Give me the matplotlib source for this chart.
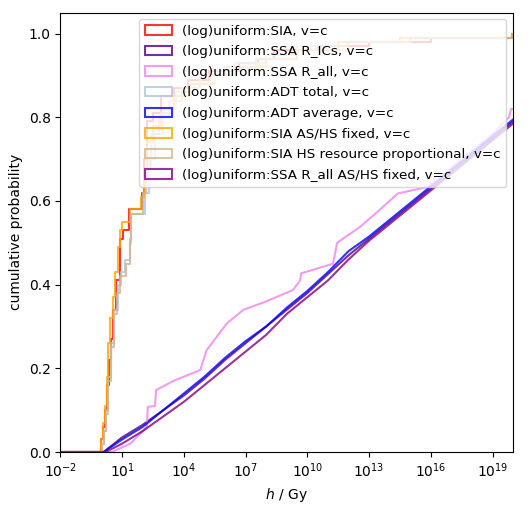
import numpy as np
import matplotlib
matplotlib.use("Agg")
import matplotlib.pyplot as plt
from matplotlib.patches import Patch
from matplotlib.ticker import NullLocator

# ---- data: log10(h / Gy) breakpoints and cumulative probabilities ----
labels = [
    "(log)uniform:SIA, v=c",
    "(log)uniform:SSA R_ICs, v=c",
    "(log)uniform:SSA R_all, v=c",
    "(log)uniform:ADT total, v=c",
    "(log)uniform:ADT average, v=c",
    "(log)uniform:SIA AS/HS fixed, v=c",
    "(log)uniform:SIA HS resource proportional, v=c",
    "(log)uniform:SSA R_all AS/HS fixed, v=c",
]
colors = ["red", "indigo", "violet", "lightsteelblue", "blue", "orange", "tan", "purple"]

# step-like curves (SIA family)
sia_logh = [-0.05, 0.05, 0.15, 0.25, 0.35, 0.45, 0.55, 0.70, 0.90, 1.05, 1.35, 1.95, 2.05, 2.20,
            2.50, 2.90, 3.50, 4.20, 5.20, 6.70, 7.60, 8.40, 10.5, 13.0, 16.0, 19.95]
sia_cdf = [0.03, 0.06, 0.10, 0.16, 0.22, 0.27, 0.34, 0.41, 0.51, 0.53, 0.58, 0.62, 0.70, 0.79,
           0.81, 0.85, 0.87, 0.89, 0.91, 0.93, 0.94, 0.96, 0.97, 0.98, 0.99, 1.00]

adt_total_logh = [0.0, 0.1, 0.2, 0.3, 0.45, 0.60, 0.80, 0.95, 1.15, 1.40, 1.45, 2.10, 2.30, 2.60,
                  3.00, 3.60, 4.50, 5.50, 6.50, 8.00, 9.50, 12.0, 15.0, 19.95]
adt_total_cdf = [0.02, 0.05, 0.10, 0.18, 0.26, 0.34, 0.40, 0.43, 0.46, 0.50, 0.57, 0.62, 0.70, 0.76,
                 0.82, 0.86, 0.88, 0.91, 0.93, 0.95, 0.97, 0.98, 0.99, 1.00]

sia_fixed_logh = [-0.05, 0.05, 0.15, 0.25, 0.32, 0.42, 0.55, 0.65, 0.80, 0.90, 1.0, 1.40, 1.90, 2.05,
                  2.20, 2.50, 2.90, 3.50, 4.30, 5.30, 6.50, 8.00, 9.50, 11.5, 14.5, 19.95]
sia_fixed_cdf = [0.03, 0.07, 0.11, 0.18, 0.26, 0.32, 0.37, 0.43, 0.49, 0.53, 0.55, 0.58, 0.61, 0.66,
                 0.74, 0.78, 0.81, 0.85, 0.88, 0.90, 0.92, 0.94, 0.96, 0.98, 0.99, 1.00]

sia_hs_logh = [0.0, 0.1, 0.2, 0.3, 0.45, 0.60, 0.75, 0.90, 1.20, 1.40, 1.45, 2.00, 2.15, 2.40,
               2.80, 3.30, 3.90, 4.80, 6.00, 7.50, 9.50, 12.0, 15.0, 19.95]
sia_hs_cdf = [0.02, 0.05, 0.09, 0.17, 0.25, 0.33, 0.38, 0.42, 0.45, 0.51, 0.57, 0.62, 0.68, 0.76,
              0.80, 0.84, 0.87, 0.90, 0.92, 0.94, 0.96, 0.98, 0.99, 1.00]

# finely stepped curves (SSA / ADT average family)
ssa_ics_logh = [0.1, 1, 2, 3, 4, 5, 6, 7, 8, 9, 10, 11, 12, 13, 14, 15, 16, 17, 18, 19, 20]
ssa_ics_cdf = [0.0, 0.035, 0.065, 0.10, 0.135, 0.175, 0.22, 0.26, 0.30, 0.34, 0.38, 0.425, 0.47,
               0.51, 0.55, 0.59, 0.63, 0.67, 0.71, 0.75, 0.79]

adt_avg_logh = [0.1, 1, 2, 3, 4, 5, 6, 7, 8, 9, 10, 11, 12, 13, 14, 15, 16, 17, 18, 19, 20]
adt_avg_cdf = [0.0, 0.03, 0.06, 0.10, 0.14, 0.18, 0.225, 0.265, 0.30, 0.345, 0.385, 0.43, 0.48,
               0.515, 0.555, 0.595, 0.635, 0.675, 0.715, 0.755, 0.795]

ssa_fixed_logh = [0.2, 1, 2, 3, 4, 5, 6, 7, 8, 9, 10, 11, 12, 13, 14, 15, 16, 17, 18, 19, 20]
ssa_fixed_cdf = [0.0, 0.02, 0.05, 0.085, 0.12, 0.16, 0.20, 0.24, 0.28, 0.33, 0.37, 0.41, 0.46,
                 0.505, 0.545, 0.585, 0.625, 0.665, 0.705, 0.745, 0.785]

ssa_all_logh = [0.5, 1.4, 2.0, 2.2, 2.25, 2.6, 2.65, 3.5, 4.8, 5.1, 6.1, 6.9, 8.0, 9.3, 9.65, 9.7,
                11.25, 11.45, 12.56, 13.5, 14.4, 15.8, 17.0, 18.0, 19.0, 19.8, 19.9, 20.0]
ssa_all_cdf = [0.0, 0.02, 0.05, 0.06, 0.108, 0.11, 0.148, 0.17, 0.196, 0.243, 0.308, 0.34, 0.36,
               0.387, 0.41, 0.427, 0.45, 0.50, 0.538, 0.578, 0.618, 0.633, 0.68, 0.72, 0.76,
               0.80, 0.82, 0.82]

step_series = {
    0: (sia_logh, sia_cdf),
    3: (adt_total_logh, adt_total_cdf),
    5: (sia_fixed_logh, sia_fixed_cdf),
    6: (sia_hs_logh, sia_hs_cdf),
}
line_series = {
    1: (ssa_ics_logh, ssa_ics_cdf),
    2: (ssa_all_logh, ssa_all_cdf),
    4: (adt_avg_logh, adt_avg_cdf),
    7: (ssa_fixed_logh, ssa_fixed_cdf),
}

ALPHA = 0.8
fig = plt.figure(figsize=(5.32, 5.14), dpi=100)
ax = fig.add_axes([0.1135, 0.1206, 0.851, 0.8547])

for i in range(8):
    if i in step_series:
        lx, cy = step_series[i]
        xs = np.concatenate([[1e-4], 10.0 ** np.array(lx), [1e21]])
        ys = np.concatenate([[0.0], cy, [cy[-1]]])
        ax.step(xs, ys, where="post", color=colors[i], alpha=ALPHA, lw=1.5)
    else:
        lx, cy = line_series[i]
        xs = np.concatenate([[1e-4], 10.0 ** np.array(lx)])
        ys = np.concatenate([[0.0], cy])
        ax.plot(xs, ys, color=colors[i], alpha=ALPHA, lw=1.5)

ax.set_xscale("log")
ax.set_xlim(1e-2, 1e20)
ax.set_ylim(0, 1.05)
ax.set_xticks(10.0 ** np.arange(-2, 20, 3))
ax.xaxis.set_minor_locator(NullLocator())
ax.set_xlabel("$h$ / Gy")
ax.set_ylabel("cumulative probability")

handles = [Patch(facecolor="none", edgecolor=c, alpha=ALPHA, lw=1.5) for c in colors]
ax.legend(handles, labels, loc="upper right", fontsize=9.7, labelspacing=0.56)

fig.savefig("out.png", dpi=100)
